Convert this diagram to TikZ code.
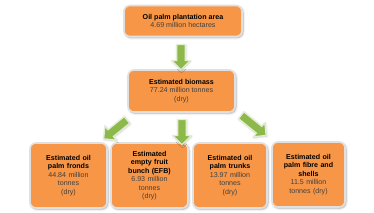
\documentclass[tikz,border=0pt]{standalone}
\usepackage{fontspec}
\setmainfont{Liberation Sans}
\usetikzlibrary{shapes.arrows,shadows.blur}
\definecolor{boxorange}{HTML}{F79646}
\definecolor{arrowgreen}{HTML}{8DB84A}
\definecolor{valgray}{HTML}{404040}
\begin{document}
\begin{tikzpicture}[x=1pt,y=1pt,
  obox/.style={draw=white!88!black, line width=1.6pt, fill=boxorange, rounded corners=6pt,
    align=center, inner sep=1pt, font=\fontsize{7.1}{8.5}\selectfont,
    blur shadow={shadow xshift=1pt, shadow yshift=-1.2pt, shadow blur steps=4, shadow opacity=35}},
  garrow/.style={single arrow, draw=white!75!arrowgreen, line width=1.2pt, fill=arrowgreen,
    minimum width=18pt, single arrow head extend=4.5pt, single arrow tip angle=90,
    inner sep=3.5pt, anchor=center,
    blur shadow={shadow xshift=0.5pt, shadow yshift=-0.8pt, shadow blur steps=3, shadow opacity=25}}]
\useasboundingbox (0,0) rectangle (374,213);
\node[obox, minimum width=118pt, minimum height=31pt] (area) at (183,192)
  {\textbf{Oil palm plantation area}\\{\color{valgray}4.69 million hectares}};
\node[obox, minimum width=107pt, minimum height=42pt] (bio) at (181.5,122)
  {\textbf{Estimated biomass}\\{\color{valgray}77.24 million tonnes}\\{\color{valgray}(dry)}};
\node[obox, minimum width=77pt, minimum height=65pt, text width=72pt] (fronds) at (68.5,37.5)
  {\textbf{Estimated oil}\\\textbf{palm fronds}\\{\color{valgray}44.84 million}\\{\color{valgray}tonnes}\\{\color{valgray}(dry)}};
\node[obox, minimum width=77pt, minimum height=65pt, text width=72pt] (efb) at (149.5,37.5)
  {\textbf{Estimated}\\\textbf{empty fruit}\\\textbf{bunch (EFB)}\\{\color{valgray}6.93 million}\\{\color{valgray}tonnes}\\{\color{valgray}(dry)}};
\node[obox, minimum width=74pt, minimum height=65pt, text width=69pt] (trunks) at (230,37.5)
  {\textbf{Estimated oil}\\\textbf{palm trunks}\\{\color{valgray}13.97 million}\\{\color{valgray}tonnes}\\{\color{valgray}(dry)}};
\node[obox, minimum width=73pt, minimum height=65pt, text width=68pt] (fibre) at (308.5,38.5)
  {\textbf{Estimated oil}\\\textbf{palm fibre and}\\\textbf{shells}\\{\color{valgray}11.5 million}\\{\color{valgray}tonnes (dry)}};
\node[garrow, minimum height=25pt, rotate=-90] (a1) at (181,158) {};
\node[garrow, minimum height=30pt, rotate=219] (a2) at (117,85) {};
\node[garrow, minimum height=25pt, rotate=-90] (a3) at (182,83) {};
\node[garrow, minimum height=32pt, rotate=-39] (a4) at (252,89) {};
\end{tikzpicture}
\end{document}
